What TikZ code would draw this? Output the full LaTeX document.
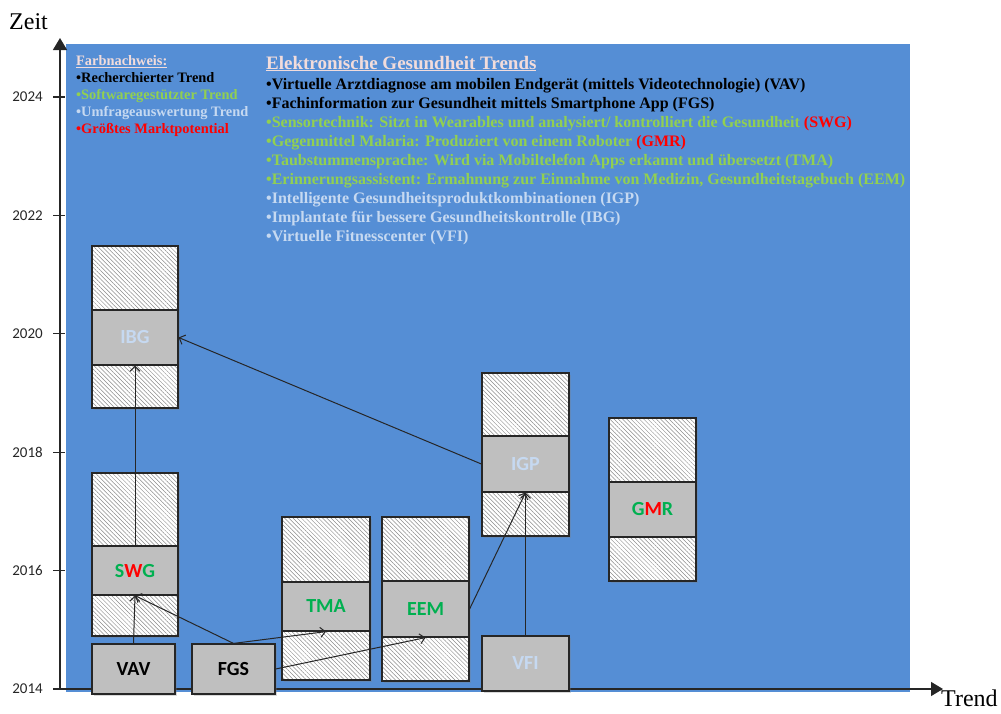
\documentclass[tikz,border=0pt]{standalone}
\usepackage{fontspec}
\setmainfont{Liberation Serif}
\newfontfamily\calibri{Carlito}
\usetikzlibrary{patterns.meta,shadows,arrows.meta}

\definecolor{bgblue}{HTML}{558ED5}
\definecolor{lgreen}{HTML}{92D050}
\definecolor{kgreen}{HTML}{00B050}
\definecolor{lblue}{HTML}{C6D9F1}
\definecolor{pale}{HTML}{F2DCDB}
\definecolor{bandgray}{HTML}{BFBFBF}
\definecolor{axisgray}{HTML}{262626}

\tikzset{
  colbox/.style={draw=axisgray, line width=1.2pt, inner sep=0pt,
    drop shadow={shadow xshift=1.5pt, shadow yshift=-1.5pt, opacity=.3},
    preaction={fill=white},
    pattern={Lines[angle=-45,distance=3pt,line width=0.5pt]}, pattern color=black!45,
    minimum width=87pt, minimum height=163pt},
  band/.style={draw=axisgray, line width=1.2pt, fill=bandgray, inner sep=0pt,
    minimum width=87pt, font=\calibri\bfseries\fontsize{20}{20}\selectfont},
  trendbox/.style={draw=axisgray, line width=1.2pt, fill=bandgray, inner sep=0pt,
    drop shadow={shadow xshift=1.5pt, shadow yshift=-1.5pt, opacity=.3},
    minimum width=83pt, minimum height=50pt, font=\calibri\bfseries\fontsize{20}{20}\selectfont},
  link/.style={-{Straight Barb[length=5pt,width=10pt]}, draw=axisgray, line width=1pt},
  legline/.style={anchor=base west, inner sep=0pt, font=\bfseries\fontsize{14.4}{16}\selectfont},
  txtline/.style={anchor=base west, inner sep=0pt, font=\bfseries\fontsize{16}{18}\selectfont},
  ticklbl/.style={anchor=east, inner sep=0pt, font=\calibri\fontsize{15}{15}\selectfont, text=axisgray},
  axislbl/.style={anchor=base west, inner sep=0pt, font=\fontsize{24}{24}\selectfont}
}

\begin{document}
\begin{tikzpicture}[x=1pt,y=-1pt]
    \useasboundingbox (0,0) rectangle (1001,713);
    \fill[bgblue] (66,44) rectangle (910,692);

    \coordinate (o) at (60,689);
    \coordinate (ytop) at (60,38);
    \coordinate (xend) at (943,689);
    \draw[axisgray, line width=1.3pt, -{Triangle[length=12pt,width=14pt]}] (o) -- (ytop);
    \draw[axisgray, line width=1.3pt, -{Triangle[length=12pt,width=14pt]}] (o) -- (xend);
    \node[axislbl] (zeit) at (9,29) {Zeit};
    \node[axislbl] (trend) at (941,706) {Trend};

    \foreach \y/\yr in {689/2014, 570.6/2016, 452.2/2018, 333.8/2020, 215.4/2022, 97/2024} {
        \draw[axisgray, line width=1.2pt] (53,\y) -- (65,\y);
        \node[ticklbl] at (43,\y) {\yr};
    }

    \node[legline, text=pale] (leg0) at (76,65.5) {\underline{Farbnachweis:}};
    \node[legline, text=black] (leg1) at (76,82.5) {•Recherchierter Trend};
    \node[legline, text=lgreen] (leg2) at (76,99.5) {•Softwaregestützter Trend};
    \node[legline, text=lblue] (leg3) at (76,116.5) {•Umfrageauswertung Trend};
    \node[legline, text=red] (leg4) at (76,133.5) {•Größtes Marktpotential};

    \node[txtline, text=pale, font=\bfseries\fontsize{19}{21}\selectfont] (ttl) at (266,69) {\underline{Elektronische Gesundheit Trends}};
    \node[txtline, text=black] (t1) at (266,89) {•Virtuelle Arztdiagnose am mobilen Endgerät (mittels Videotechnologie) (VAV)};
    \node[txtline, text=black] (t2) at (266,108.1) {•Fachinformation zur Gesundheit mittels Smartphone App (FGS)};
    \node[txtline, text=lgreen] (t3) at (266,127.2) {•Sensortechnik: Sitzt in Wearables und analysiert/ kontrolliert die Gesundheit \textcolor{red}{(SWG)}};
    \node[txtline, text=lgreen] (t4) at (266,146.3) {•Gegenmittel Malaria: Produziert von einem Roboter \textcolor{red}{(GMR)}};
    \node[txtline, text=lgreen] (t5) at (266,165.4) {•Taubstummensprache: Wird via Mobiltelefon Apps erkannt und übersetzt (TMA)};
    \node[txtline, text=lgreen] (t6) at (266,184.5) {•Erinnerungsassistent: Ermahnung zur Einnahme von Medizin, Gesundheitstagebuch (EEM)};
    \node[txtline, text=lblue] (t7) at (266,203.6) {•Intelligente Gesundheitsproduktkombinationen (IGP)};
    \node[txtline, text=lblue] (t8) at (266,222.7) {•Implantate für bessere Gesundheitskontrolle (IBG)};
    \node[txtline, text=lblue] (t9) at (266,241.8) {•Virtuelle Fitnesscenter (VFI)};

    \node[colbox, minimum width=86pt, minimum height=162pt] (ibgcol) at (135,327) {};
    \node[band, minimum width=86pt, minimum height=55pt, text=lblue] (ibg) at (135,337.5) {IBG};
    \node[colbox, minimum width=86pt] (swgcol) at (135,554.5) {};
    \node[band, minimum width=86pt, minimum height=49pt] (swg) at (135,570.5) {\textcolor{kgreen}{S}\textcolor{red}{W}\textcolor{kgreen}{G}};
    \node[colbox, minimum width=88pt] (tmacol) at (326,598.5) {};
    \node[band, minimum width=88pt, minimum height=49pt, text=kgreen] (tma) at (326,606.5) {TMA};
    \node[colbox, minimum height=164pt] (eemcol) at (425.5,599) {};
    \node[band, minimum height=56pt, text=kgreen] (eem) at (425.5,609) {EEM};
    \node[colbox] (igpcol) at (525.5,454.5) {};
    \node[band, minimum height=56pt, text=lblue] (igp) at (525.5,464) {IGP};
    \node[colbox] (gmrcol) at (652.5,499.5) {};
    \node[band, minimum height=55pt] (gmr) at (652.5,509.5) {\textcolor{kgreen}{G}\textcolor{red}{M}\textcolor{kgreen}{R}};

    \node[trendbox, text=black] (vav) at (133.5,669) {VAV};
    \node[trendbox, text=black] (fgs) at (233.5,669) {FGS};
    \node[trendbox, minimum width=87pt, minimum height=55pt, text=lblue] (vfi) at (525.5,663.5) {VFI};

    \draw[link] (vav.north) -- (swg.south);
    \draw[link] (fgs.north) -- (swg.south);
    \draw[link] (fgs.north) -- (tma.south);
    \draw[link] (fgs.east) -- (eem.south);
    \draw[link] (eem.east) -- (igp.south);
    \draw[link] (vfi.north) -- (igp.south);
    \draw[link] (swg.north) -- (ibg.south);
    \draw[link] (igp.west) -- (ibg.east);

\end{tikzpicture}
\end{document}
